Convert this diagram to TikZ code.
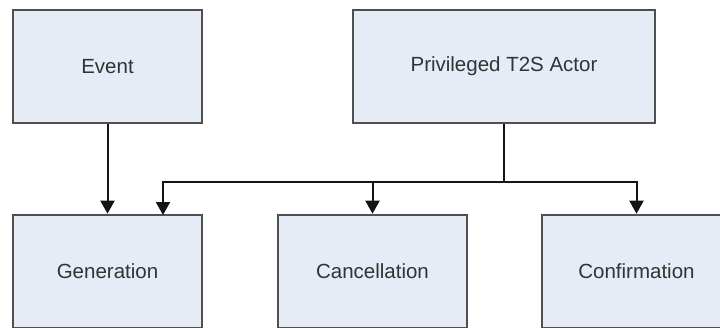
\documentclass[tikz,border=0pt]{standalone}
\usepackage{fontspec}
\setmainfont{Liberation Sans}
\usetikzlibrary{arrows.meta}
\definecolor{boxfill}{HTML}{E5ECF6}
\definecolor{boxline}{HTML}{4F4F4F}
\definecolor{txt}{HTML}{333333}
\definecolor{wire}{HTML}{141414}
\begin{document}
\begin{tikzpicture}[x=1pt,y=-1pt,
  box/.style={draw=boxline,fill=boxfill,line width=2.6pt,rectangle,inner sep=0pt,
    minimum height=113pt,text=txt,font=\fontsize{20.5}{24}\selectfont},
  link/.style={draw=wire,line width=2pt,-{Triangle[length=13pt,width=14pt]}},
  plain/.style={draw=wire,line width=2pt}]
\useasboundingbox (0,0) rectangle (720,327);
\clip (0,0) rectangle (720,327);
\fill[white] (0,0) rectangle (720,327);
\node[box,minimum width=189pt] (event) at (107.5,66.5) {Event};
\node[box,minimum width=302pt] (actor) at (504,66.5) {Privileged T2S Actor};
\node[box,minimum width=189pt] (gen) at (107.5,271.5) {Generation};
\node[box,minimum width=189pt] (canc) at (372.5,271.5) {Cancellation};
\node[box,minimum width=189pt] (conf) at (636.5,271.5) {Confirmation};
\coordinate (j) at (504,182);
\coordinate (gin) at (163,215);
\draw[link] (event) -- (gen);
\draw[plain] (actor.south) -- (j);
\draw[link] (j) -| (gin);
\draw[link] (j) -| (canc.north);
\draw[link] (j) -| (conf.north);
\end{tikzpicture}
\end{document}
